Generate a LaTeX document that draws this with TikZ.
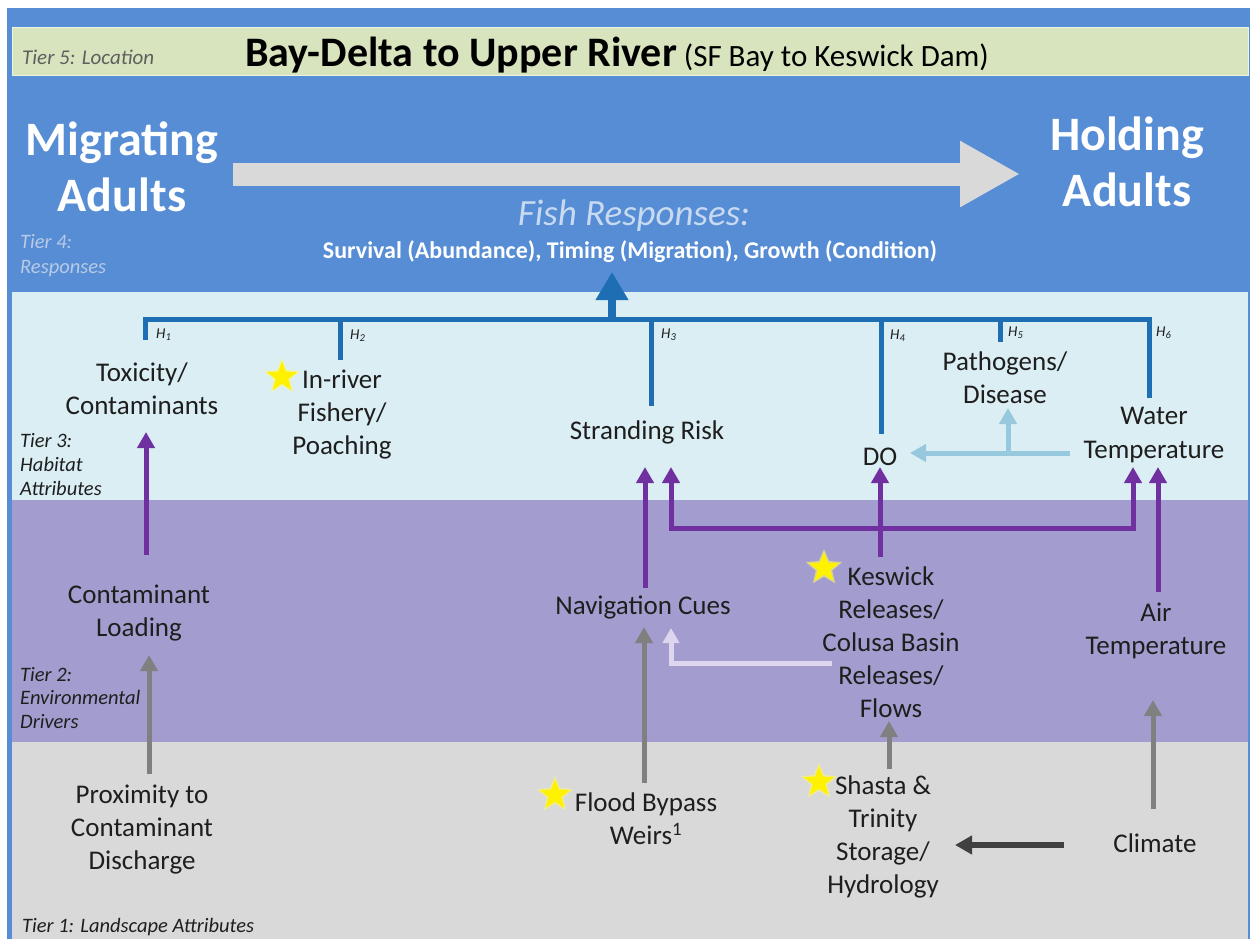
\documentclass[tikz,border=0pt]{standalone}
\usepackage{fontspec}
\setmainfont{Carlito}
\usetikzlibrary{arrows.meta,shapes.geometric}
\definecolor{frameblue}{RGB}{86,141,213}
\definecolor{tfive}{RGB}{215,228,189}
\definecolor{tthree}{RGB}{219,238,244}
\definecolor{ttwo}{RGB}{162,157,206}
\definecolor{tone}{RGB}{217,217,217}
\definecolor{brblue}{RGB}{30,110,180}
\definecolor{purp}{RGB}{112,48,160}
\definecolor{ltblue}{RGB}{150,200,222}
\definecolor{lav}{RGB}{222,214,238}
\definecolor{garrow}{RGB}{128,128,128}
\definecolor{darrow}{RGB}{64,64,64}
\definecolor{bigarrow}{RGB}{217,217,217}
\definecolor{txt}{RGB}{30,30,30}
\definecolor{fishc}{RGB}{200,218,240}
\definecolor{tierfour}{RGB}{185,202,230}
\definecolor{tierfive}{RGB}{95,95,95}
\begin{document}
\begin{tikzpicture}[x=1pt,y=-1pt,
  lbl/.style={align=center, font=\fontsize{27}{33}\selectfont, text=txt, inner sep=0pt},
  tierlbl/.style={align=left, anchor=west, font=\fontsize{20.5}{24}\selectfont\itshape, text=txt, inner sep=0pt},
  hlbl/.style={anchor=west, font=\fontsize{15}{17}\selectfont\itshape, text=txt, inner sep=0pt},
  ystar/.style={star, star points=5, star point ratio=2.4, fill=yellow, minimum size=32pt, inner sep=0pt},
  yglow/.style={star, star points=5, star point ratio=2.2, fill=yellow!55, fill opacity=0.6, minimum size=38pt, inner sep=0pt},
  parrow/.style={draw=purp, line width=5pt, line join=miter, -{Triangle[width=17pt,length=16pt]}},
  garr/.style={draw=garrow, line width=5pt, -{Triangle[width=17pt,length=16pt]}},
  darr/.style={draw=darrow, line width=6pt, -{Triangle[width=18pt,length=17pt]}},
  ltarr/.style={draw=ltblue, line width=5pt, -{Triangle[width=17pt,length=16pt]}},
  lavarr/.style={draw=lav, line width=5pt, line join=miter, -{Triangle[width=16pt,length=15pt]}},
  bluebar/.style={draw=brblue, line width=5pt, line join=miter}
]
\useasboundingbox (0,0) rectangle (1250,939);
\fill[white] (0,0) rectangle (1250,939);
\fill[frameblue] (7,8) rectangle (1250,939);
% bands
\fill[tfive, draw=white!55!tfive, line width=1pt] (12,28) rectangle (1248,76);
\fill[tthree] (12,292) rectangle (1248,500);
\fill[ttwo] (12,500) rectangle (1248,742);
\fill[tone] (12,742) rectangle (1248,939);

% Tier 5
\node[anchor=base west, inner sep=0pt, text=tierfive, font=\fontsize{21}{23}\selectfont\itshape] (t5) at (22,65) {Tier 5: Location};
\node[anchor=base west, inner sep=0pt, text=black] (title) at (245,67)
  {{\fontsize{42}{44}\selectfont\bfseries Bay-Delta to Upper River}{\fontsize{31}{33}\selectfont\ (SF Bay to Keswick Dam)}};

% Tier 4
\node[align=center, inner sep=0pt, text=white, font=\fontsize{48}{56}\selectfont\bfseries] (mig) at (122,167) {Migrating\\Adults};
\node[align=center, inner sep=0pt, text=white, font=\fontsize{48}{56}\selectfont\bfseries] (hold) at (1127,162) {Holding\\Adults};
\coordinate (bigS) at (233,174);
\coordinate (bigE) at (1020,174);
\draw[draw=bigarrow, line width=23pt, -{Triangle[width=62pt,length=60pt]}] (bigS) -- (bigE);
\node[inner sep=0pt, text=fishc, font=\fontsize{37}{40}\selectfont\itshape] (fish) at (634,216) {Fish Responses:};
\node[inner sep=0pt, text=white, font=\fontsize{24}{26}\selectfont\bfseries] (surv) at (630,252) {Survival (Abundance), Timing (Migration), Growth (Condition)};
\node[tierlbl, font=\fontsize{20.5}{25}\selectfont\itshape, text=tierfour] (t4) at (20,256) {Tier 4:\\Responses};

% Tier 3 nodes
\node[lbl] (tox) at (142,389) {Toxicity/\\Contaminants};
\node[lbl] (fishery) at (342,415) {In-river\\Fishery/\\Poaching};
\node[lbl] (strand) at (647,432) {Stranding Risk};
\node[lbl] (do) at (880,457) {DO};
\node[lbl] (path) at (1005,378) {Pathogens/\\Disease};
\node[lbl, font=\fontsize{27}{34}\selectfont] (wt) at (1154,435) {Water\\Temperature};
\node[tierlbl] (t3) at (20,465) {Tier 3:\\Habitat\\Attributes};

% Tier 2 nodes
\node[lbl] (cl) at (139,613) {Contaminant\\Loading};
\node[lbl] (nav) at (643,607) {Navigation Cues};
\node[lbl] (kes) at (891,642) {Keswick\\Releases/\\Colusa Basin\\Releases/\\Flows};
\node[lbl] (air) at (1156,631) {Air\\Temperature};
\node[tierlbl, font=\fontsize{20.5}{23.5}\selectfont\itshape] (t2) at (20,698) {Tier 2:\\Environmental\\Drivers};

% Tier 1 nodes
\node[lbl] (prox) at (142,830) {Proximity to\\Contaminant\\Discharge};
\node[lbl] (flood) at (646,819) {Flood Bypass\\Weirs\textsuperscript{1}};
\node[lbl] (shasta) at (883,837) {Shasta \&\\Trinity\\Storage/\\Hydrology};
\node[lbl] (clim) at (1155,843) {Climate};
\node[tierlbl] (t1) at (22,927) {Tier 1: Landscape Attributes};

% stars
\foreach \n/\p in {s1/{(282,377)}, s2/{(824,568)}, s3/{(555,795)}, s4/{(819,782)}} {
  \node[yglow] at \p {};
  \node[ystar] (\n) at \p {};
}

% blue bracket
\coordinate (b1) at (145,319); \coordinate (d1) at (145,340);
\coordinate (b2) at (340,319); \coordinate (d2) at (340,360);
\coordinate (b3) at (651,319); \coordinate (d3) at (651,406);
\coordinate (b4) at (881,319); \coordinate (d4) at (881,434);
\coordinate (b5) at (1000,319); \coordinate (d5) at (1000,342);
\coordinate (b6) at (1149,319); \coordinate (d6) at (1149,398);
\draw[bluebar] (d1) -- (b1) -- (b6) -- (d6);
\foreach \i in {2,3,4,5} { \draw[bluebar] (b\i) -- (d\i); }
\coordinate (upS) at (612,321);
\coordinate (upE) at (612,272);
\draw[brblue, line width=8pt, -{Triangle[width=31pt,length=28pt]}] (upS) -- (upE);
\node[hlbl] (h1) at (156,335) {H\textsubscript{1}};
\node[hlbl] (h2) at (350,336) {H\textsubscript{2}};
\node[hlbl] (h3) at (661,335) {H\textsubscript{3}};
\node[hlbl] (h4) at (890,336) {H\textsubscript{4}};
\node[hlbl] (h5) at (1008,333) {H\textsubscript{5}};
\node[hlbl] (h6) at (1156,333) {H\textsubscript{6}};

% light blue arrows (Water Temperature -> DO, Pathogens)
\coordinate (wtL) at (1070,453);
\coordinate (doR) at (910,453);
\coordinate (brJ) at (1008,453);
\coordinate (patB) at (1008,408);
\draw[ltarr] (wtL) -- (doR);
\draw[ltarr] (brJ) -- (patB);

% purple arrows
\coordinate (clT) at (146,555); \coordinate (toxB) at (146,432);
\draw[parrow] (clT) -- (toxB);
\coordinate (navT) at (645,588); \coordinate (srB1) at (645,467);
\draw[parrow] (navT) -- (srB1);
\coordinate (airT) at (1158,592); \coordinate (wtB2) at (1158,467);
\draw[parrow] (airT) -- (wtB2);
\coordinate (kesT) at (880,557); \coordinate (doB) at (880,467);
\draw[parrow] (kesT) -- (doB);
\coordinate (srB2) at (671,467); \coordinate (jL) at (671,528);
\coordinate (jR) at (1133,528); \coordinate (wtB1) at (1133,467);
\draw[parrow, {Triangle[width=17pt,length=16pt]}-{Triangle[width=17pt,length=16pt]}] (srB2) -- (jL) -- (jR) -- (wtB1);

% lavender arrow (Keswick -> Navigation Cues)
\coordinate (kesL) at (832,663); \coordinate (navB2) at (671,628);
\draw[lavarr] (kesL) -| (navB2);

% gray arrows
\coordinate (proxT) at (149,774); \coordinate (clB) at (149,655);
\draw[garr] (proxT) -- (clB);
\coordinate (floodT) at (644,783); \coordinate (navB1) at (644,627);
\draw[garr] (floodT) -- (navB1);
\coordinate (shT) at (889,769); \coordinate (kesB) at (889,721);
\draw[garr] (shT) -- (kesB);
\coordinate (climT) at (1153,809); \coordinate (airB) at (1153,700);
\draw[garr] (climT) -- (airB);
\coordinate (climL) at (1064,845); \coordinate (shR) at (955,845);
\draw[darr] (climL) -- (shR);
\end{tikzpicture}
\end{document}
